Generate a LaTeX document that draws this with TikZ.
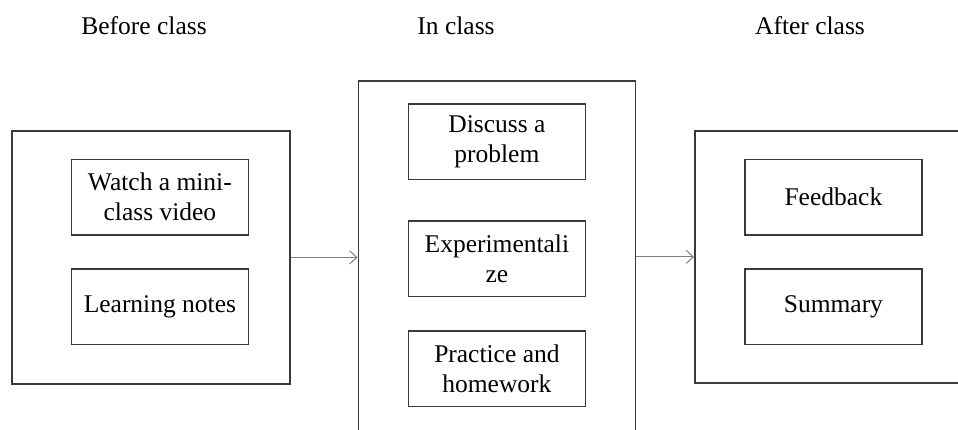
\documentclass[tikz,border=0pt]{standalone}
\usepackage{fontspec}
\setmainfont{Liberation Serif}
\usetikzlibrary{arrows.meta}
\definecolor{boxline}{HTML}{3A3A3A}
\definecolor{arrline}{HTML}{808080}
\begin{document}
\begin{tikzpicture}[x=1pt,y=-1pt,
  bigbox/.style={draw=boxline, line width=1.8pt, fill=white, anchor=north west, inner sep=0pt},
  smallbox/.style={draw=boxline, line width=1.8pt, fill=white, anchor=north west, inner sep=0pt,
     minimum width=177pt, minimum height=75.5pt, align=center,
     font=\fontsize{25.5}{30}\selectfont},
  title/.style={font=\fontsize{25.5}{30}\selectfont, inner sep=0pt, anchor=base},
  arr/.style={draw=arrline, line width=1pt, -{Straight Barb[length=7pt,width=13pt]}}]
\clip (0,0) rectangle (958,429);
\fill[white] (0,0) rectangle (958,429);
% titles
\node[title] (t1) at (144,34) {Before class};
\node[title] (t2) at (456,34) {In class};
\node[title] (t3) at (810,34) {After class};
% big boxes
\node[bigbox, minimum width=278pt, minimum height=253pt] (before) at (11,130) {};
\node[bigbox, minimum width=277pt, minimum height=370pt] (in) at (357.5,80) {};
\node[bigbox, minimum width=290pt, minimum height=252pt] (after) at (694,130) {};
% inner boxes
\node[smallbox] (b1) at (70.5,158.5) {Watch a mini-\\class video};
\node[smallbox] (b2) at (70.5,268) {Learning notes};
\node[smallbox] (i1) at (407.5,103) {Discuss a\\problem};
\node[smallbox] (i2) at (407.5,220) {Experimentali\\ze};
\node[smallbox] (i3) at (407.5,330) {Practice and\\homework};
\node[smallbox] (a1) at (744,158.5) {Feedback};
\node[smallbox] (a2) at (744,268) {Summary};
% arrows
\draw[arr] (before.east) -- (before.east -| in.west);
\draw[arr] (in.east |- after.west) -- (after.west);
\end{tikzpicture}
\end{document}
